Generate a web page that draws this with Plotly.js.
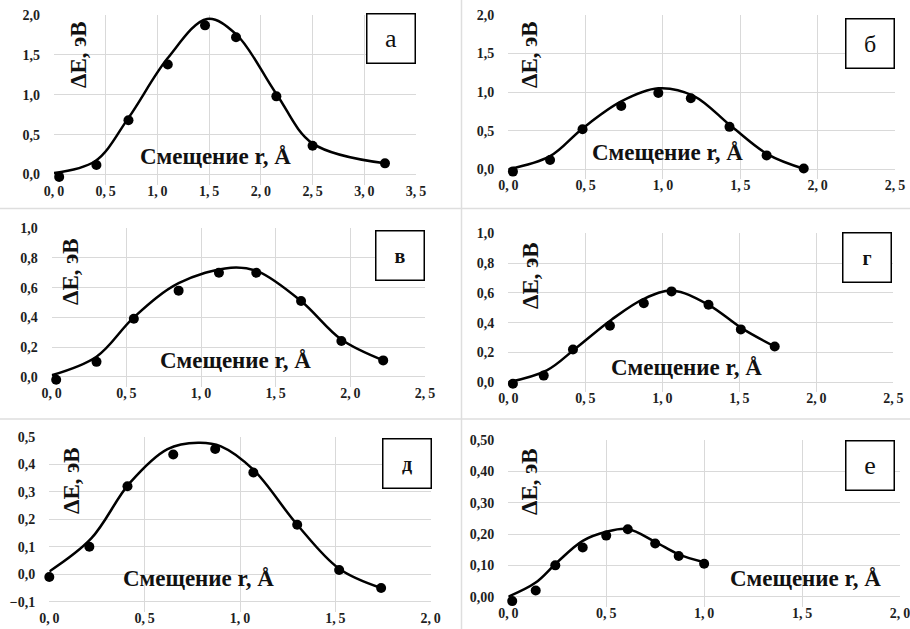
<!DOCTYPE html>
<html>
<head>
<meta charset="utf-8">
<script src="https://cdn.plot.ly/plotly-3.0.1.min.js"></script>
<style>
  html, body { margin: 0; padding: 0; background: #ffffff; }
  #chart { width: 910px; height: 629px; }
</style>
</head>
<body>
<div id="chart"></div>
<script>
// Measured points and fitted curves, ΔE (эВ) against displacement r (Å)

// а
const rA = [0.05, 0.41, 0.72, 1.10, 1.46, 1.76, 2.15, 2.50, 3.20];
const eA = [-0.03, 0.12, 0.68, 1.38, 1.87, 1.72, 0.98, 0.36, 0.14];
const fitRA = [0.00, 0.40, 0.72, 1.10, 1.48, 1.76, 2.15, 2.50, 3.20];
const fitEA = [0.02, 0.17, 0.71, 1.46, 1.95, 1.76, 1.01, 0.39, 0.14];

// б
const rB = [0.03, 0.27, 0.48, 0.73, 0.97, 1.18, 1.43, 1.67, 1.91];
const eB = [-0.03, 0.12, 0.52, 0.82, 0.99, 0.92, 0.55, 0.18, 0.01];
const fitRB = [0.00, 0.27, 0.48, 0.73, 0.97, 1.20, 1.44, 1.68, 1.92];
const fitEB = [0.00, 0.17, 0.53, 0.88, 1.05, 0.95, 0.56, 0.19, 0.00];

// в
const rV = [0.03, 0.30, 0.55, 0.85, 1.12, 1.37, 1.67, 1.94, 2.22];
const eV = [-0.02, 0.10, 0.39, 0.58, 0.70, 0.70, 0.51, 0.24, 0.11];
const fitRV = [0.00, 0.30, 0.55, 0.85, 1.20, 1.38, 1.67, 1.94, 2.22];
const fitEV = [0.01, 0.135, 0.40, 0.63, 0.735, 0.71, 0.51, 0.25, 0.11];

// г
const rG = [0.03, 0.23, 0.42, 0.66, 0.88, 1.06, 1.30, 1.51, 1.73];
const eG = [-0.01, 0.045, 0.22, 0.38, 0.53, 0.61, 0.52, 0.355, 0.24];
const fitRG = [0.00, 0.25, 0.44, 0.67, 0.88, 1.07, 1.30, 1.52, 1.73];
const fitEG = [0.00, 0.08, 0.23, 0.42, 0.56, 0.615, 0.52, 0.36, 0.24];

// д
const rD = [0.00, 0.21, 0.41, 0.65, 0.87, 1.07, 1.30, 1.52, 1.74];
const eD = [-0.01, 0.10, 0.32, 0.435, 0.455, 0.37, 0.18, 0.015, -0.05];
const fitRD = [0.00, 0.22, 0.42, 0.62, 0.78, 0.90, 1.07, 1.30, 1.52, 1.74];
const fitED = [0.01, 0.13, 0.33, 0.455, 0.478, 0.465, 0.38, 0.18, 0.02, -0.05];

// е
const rE = [0.02, 0.14, 0.24, 0.38, 0.50, 0.61, 0.75, 0.87, 1.00];
const eE = [-0.014, 0.02, 0.10, 0.157, 0.195, 0.215, 0.17, 0.13, 0.105];
const fitRE = [0.00, 0.14, 0.25, 0.38, 0.50, 0.61, 0.75, 0.87, 1.00];
const fitEE = [0.00, 0.045, 0.11, 0.178, 0.207, 0.216, 0.175, 0.135, 0.11];

const panelLetters = ['а', 'б', 'в', 'г', 'д', 'е'];
const yAxisLabel = 'ΔE, эВ';
const xAxisLabel = 'Смещение r, Å';

const W = 910, H = 629;
const SERIF = 'Liberation Serif, Times New Roman, serif';

// Plot rectangles in pixels: left, right, top, bottom; axis ranges and tick steps
const panels = [
  { pts: [rA, eA], fit: [fitRA, fitEA], box: [54, 416, 15, 174.5],  xr: [0, 3.5], yr: [0, 2],    dx: 0.5, dy: 0.5, yfmt: '.1f',
    ylab: [79, 55], xlab: [215, 157], tag: [391, 38.5], tagSize: 26, tagBold: false },
  { pts: [rB, eB], fit: [fitRB, fitEB], box: [508.3, 895, 15, 169.3], xr: [0, 2.5], yr: [0, 2],    dx: 0.5, dy: 0.5, yfmt: '.1f',
    ylab: [530, 55], xlab: [667, 153], tag: [869.5, 43.5], tagSize: 24, tagBold: false },
  { pts: [rV, eV], fit: [fitRV, fitEV], box: [51.7, 425, 228.3, 376.7], xr: [0, 2.5], yr: [0, 1],  dx: 0.5, dy: 0.2, yfmt: '.1f',
    ylab: [70, 272], xlab: [235, 360], tag: [399.5, 255], tagSize: 20, tagBold: true },
  { pts: [rG, eG], fit: [fitRG, fitEG], box: [508.3, 893.3, 233.3, 382.3], xr: [0, 2.5], yr: [0, 1], dx: 0.5, dy: 0.2, yfmt: '.1f',
    ylab: [530, 276], xlab: [686, 367], tag: [866.5, 257], tagSize: 20, tagBold: true },
  { pts: [rD, eD], fit: [fitRD, fitED], box: [49.3, 430.7, 436.7, 601.7], xr: [0, 2], yr: [-0.1, 0.5], dx: 0.5, dy: 0.1, yfmt: '.1f',
    ylab: [72, 481], xlab: [198, 578], tag: [406.5, 463.5], tagSize: 20, tagBold: true },
  { pts: [rE, eE], fit: [fitRE, fitEE], box: [508.3, 900, 440, 596.7], xr: [0, 2], yr: [0, 0.5],  dx: 0.5, dy: 0.1, yfmt: '.2f',
    ylab: [530, 482], xlab: [805, 578], tag: [869.5, 465.5], tagSize: 26, tagBold: false }
];

const px = v => v / W;
const py = v => 1 - v / H;
const PAD = 10;   // extra room under the lowest gridline so markers just below zero stay visible

// x tick labels are set a little wider: "0, 5"
function xTicks(range, step) {
  const vals = [], text = [];
  for (let k = 0; range[0] + k * step <= range[1] + 1e-9; k++) {
    const v = range[0] + k * step;
    vals.push(v);
    text.push(v.toFixed(1).replace('.', ',\u2009'));
  }
  return { vals, text };
}

const traces = [];
const layout = {
  width: W, height: H,
  margin: { l: 0, r: 0, t: 0, b: 0 },
  paper_bgcolor: '#ffffff',
  plot_bgcolor: '#ffffff',
  showlegend: false,
  separators: ', ',
  annotations: [],
  shapes: []
};

const tickFont = { family: SERIF, size: 14, color: '#1e1e1e', weight: 'bold' };

panels.forEach((p, i) => {
  const n = i + 1;
  const xa = 'x' + (n === 1 ? '' : n);
  const ya = 'y' + (n === 1 ? '' : n);
  const xKey = 'xaxis' + (n === 1 ? '' : n);
  const yKey = 'yaxis' + (n === 1 ? '' : n);
  const [l, r, t, b] = p.box;
  const perPx = (p.yr[1] - p.yr[0]) / (b - t);
  const yLow = p.yr[0] - PAD * perPx;
  const xt = xTicks(p.xr, p.dx);

  layout[xKey] = {
    domain: [px(l), px(r)], range: p.xr, anchor: 'free', position: py(b),
    tickmode: 'array', tickvals: xt.vals, ticktext: xt.text,
    showgrid: true, gridcolor: '#d9d9d9', gridwidth: 1,
    zeroline: false, showline: false, ticks: '',
    ticklabelstandoff: 6, ticklabeloverflow: 'allow',
    tickfont: tickFont, fixedrange: true
  };
  layout[yKey] = {
    domain: [py(b + PAD), py(t)], range: [yLow, p.yr[1]], anchor: xa,
    tickmode: 'linear', tick0: 0, dtick: p.dy, tickformat: p.yfmt,
    showgrid: true, gridcolor: '#d9d9d9', gridwidth: 1,
    zeroline: false, showline: false, ticks: '',
    ticklabelstandoff: 13, ticklabeloverflow: 'allow',
    tickfont: tickFont, fixedrange: true
  };

  // smooth fitted curve
  traces.push({
    x: p.fit[0], y: p.fit[1], xaxis: xa, yaxis: ya,
    type: 'scatter', mode: 'lines',
    line: { color: '#000000', width: 2.5, shape: 'spline', smoothing: 1 },
    hoverinfo: 'skip'
  });
  // computed points
  traces.push({
    x: p.pts[0], y: p.pts[1], xaxis: xa, yaxis: ya,
    type: 'scatter', mode: 'markers',
    marker: { color: '#000000', size: 10 },
    cliponaxis: false
  });

  // vertical axis caption inside the plot
  layout.annotations.push({
    xref: 'paper', yref: 'paper', x: px(p.ylab[0]), y: py(p.ylab[1]),
    xanchor: 'center', yanchor: 'middle', showarrow: false, textangle: -90,
    text: yAxisLabel,
    font: { family: SERIF, size: 23, color: '#111111', weight: 'bold' }
  });
  // horizontal axis caption inside the plot
  layout.annotations.push({
    xref: 'paper', yref: 'paper', x: px(p.xlab[0]), y: py(p.xlab[1]),
    xanchor: 'center', yanchor: 'middle', showarrow: false,
    text: xAxisLabel,
    font: { family: SERIF, size: 23, color: '#111111', weight: 'bold' }
  });
  // framed panel letter
  layout.annotations.push({
    xref: 'paper', yref: 'paper', x: px(p.tag[0]), y: py(p.tag[1]),
    xanchor: 'center', yanchor: 'middle', showarrow: false,
    text: panelLetters[i],
    width: 45, height: 46,
    bordercolor: '#000000', borderwidth: 1.5, borderpad: 1, bgcolor: '#ffffff',
    font: { family: SERIF, size: p.tagSize, color: '#111111', weight: p.tagBold ? 'bold' : 'normal' }
  });
});

// thin separators between the six panels
const sep = { color: '#dedede', width: 1.5 };
layout.shapes.push(
  { type: 'line', xref: 'paper', yref: 'paper', x0: px(461.5), x1: px(461.5), y0: 0, y1: 1, line: sep },
  { type: 'line', xref: 'paper', yref: 'paper', x0: 0, x1: 1, y0: py(208.5), y1: py(208.5), line: sep },
  { type: 'line', xref: 'paper', yref: 'paper', x0: 0, x1: 1, y0: py(419), y1: py(419), line: sep }
);

Plotly.newPlot('chart', traces, layout, { displayModeBar: false, staticPlot: true });
</script>
</body>
</html>
